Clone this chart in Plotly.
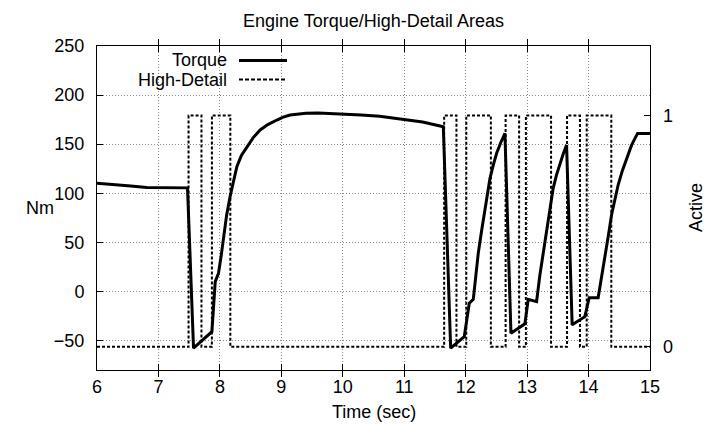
import plotly.graph_objects as go

# ---- data ----
torque_time = [6.0, 6.3, 6.55, 6.81, 7.1, 7.473, 7.571, 7.870, 7.924, 7.977,
               8.02, 8.059, 8.11, 8.167, 8.22, 8.276, 8.35, 8.439, 8.54, 8.655,
               8.78, 8.927, 9.03, 9.143, 9.27, 9.4, 9.6, 9.8, 10.0, 10.3,
               10.6, 11.0, 11.3, 11.636, 11.756, 11.977, 12.059, 12.124, 12.165, 12.205,
               12.26, 12.314, 12.355, 12.395, 12.45, 12.504, 12.57, 12.639, 12.737, 12.964,
               13.018, 13.154, 13.208, 13.262, 13.317, 13.37, 13.424, 13.48, 13.533, 13.59,
               13.642, 13.733, 13.940, 14.010, 14.156, 14.21, 14.265, 14.32, 14.374, 14.43,
               14.481, 14.55, 14.618, 14.70, 14.797, 15.0]
torque_nm = [110.2, 109.0, 107.5, 105.8, 105.6, 105.5, -57.8, -41.0, 10.0, 18.5,
             36.0, 55.8, 78.0, 97.0, 113.0, 127.0, 138.5, 147.5, 156.5, 164.5,
             170.0, 174.6, 177.5, 179.7, 181.0, 181.6, 181.8, 181.4, 180.3, 179.8,
             178.5, 175.5, 172.5, 167.8, -57.8, -46.0, -12.0, -8.0, 16.0, 39.0,
             62.0, 83.0, 100.0, 115.0, 129.0, 140.7, 151.5, 161.0, -42.6, -33.0,
             -8.0, -10.4, 16.8, 40.0, 61.0, 84.0, 105.0, 119.0, 130.5, 140.5,
             149.0, -34.0, -25.7, -6.3, -6.3, 13.0, 33.8, 56.0, 77.9, 94.0,
             108.4, 123.0, 135.6, 149.0, 161.0, 161.0]

hd_time = [6.0, 7.49, 7.70, 7.87, 8.17, 11.65, 11.85, 12.01, 12.41, 12.65,
           12.87, 12.98, 13.39, 13.65, 13.86, 13.97, 14.37, 15.0]
hd_active = [0, 1, 0, 1, 0, 1, 0, 1, 0, 1,
             0, 1, 0, 1, 0, 1, 0, 0]

x_ticks = [6, 7, 8, 9, 10, 11, 12, 13, 14, 15]
y_ticks = [-50, 0, 50, 100, 150, 200, 250]
y2_ticks = [0, 1]

FONT = "Liberation Sans, Arial, sans-serif"
FS = 18

fig = go.Figure()
fig.add_trace(go.Scatter(x=torque_time, y=torque_nm, mode="lines", name="Torque",
                         line=dict(color="black", width=3), showlegend=False))
fig.add_trace(go.Scatter(x=hd_time, y=hd_active, mode="lines", name="High-Detail",
                         line=dict(color="black", width=2, dash="3px,2px", shape="hv"),
                         yaxis="y2", showlegend=False))

L, R, T, B = 97, 57, 46, 56
W, H = 707, 426
pw, ph = W - L - R, H - T - B

def px(x):
    return (x - L) / pw

def py(y):
    return (H - B - y) / ph

# manual gnuplot-style key (text right, sample left-to-right)
for label, ycen, dash in [("Torque", 60.5, "solid"), ("High-Detail", 79.5, "4px,2px")]:
    fig.add_annotation(x=px(229), y=py(ycen), xref="paper", yref="paper", text=label,
                       showarrow=False, xanchor="right", yanchor="middle",
                       font=dict(family=FONT, size=FS, color="black"))
    fig.add_shape(type="line", xref="paper", yref="paper", x0=px(239), x1=px(287),
                  y0=py(ycen), y1=py(ycen),
                  line=dict(color="black", width=3 if dash == "solid" else 2, dash=dash))

fig.add_annotation(x=px(40), y=0.5, xref="paper", yref="paper", text="Nm", showarrow=False,
                   xanchor="center", yanchor="middle", font=dict(family=FONT, size=FS, color="black"))
fig.add_annotation(x=px(696), y=0.5, xref="paper", yref="paper", text="Active", showarrow=False,
                   textangle=-90, xanchor="center", yanchor="middle",
                   font=dict(family=FONT, size=FS, color="black"))
fig.add_annotation(x=0.5, y=py(412), xref="paper", yref="paper", text="Time (sec)", showarrow=False,
                   xanchor="center", yanchor="middle", font=dict(family=FONT, size=FS, color="black"))

grid = dict(showgrid=True, gridcolor="#8a8a8a", gridwidth=1, griddash="1px,2px")

fig.update_layout(
    width=W, height=H,
    margin=dict(l=L, r=R, t=T, b=B, pad=0, autoexpand=False),
    paper_bgcolor="white", plot_bgcolor="white",
    font=dict(family=FONT, size=FS, color="black"),
    title=dict(text="Engine Torque/High-Detail Areas", x=0.5, xref="paper",
               y=1 - 21 / H, yref="container", xanchor="center", yanchor="middle",
               font=dict(family=FONT, size=FS, color="black")),
    xaxis=dict(range=[6, 15], tickvals=x_ticks, ticks="inside", ticklen=6, tickcolor="black",
               showline=True, linecolor="black", linewidth=1, mirror="allticks",
               zeroline=False, ticklabelstandoff=0, automargin=False, **grid),
    yaxis=dict(range=[-80, 250], tickvals=y_ticks, ticks="inside", ticklen=6, tickcolor="black",
               showline=True, linecolor="black", linewidth=1, mirror=True,
               zeroline=False, ticklabelstandoff=8, automargin=False, **grid),
    yaxis2=dict(range=[-0.1, 1.3], tickvals=y2_ticks, overlaying="y", side="right",
                ticks="inside", ticklen=6, tickcolor="black", showgrid=False,
                zeroline=False, showline=False, ticklabelstandoff=12, automargin=False),
)

fig.write_html("out.html")
